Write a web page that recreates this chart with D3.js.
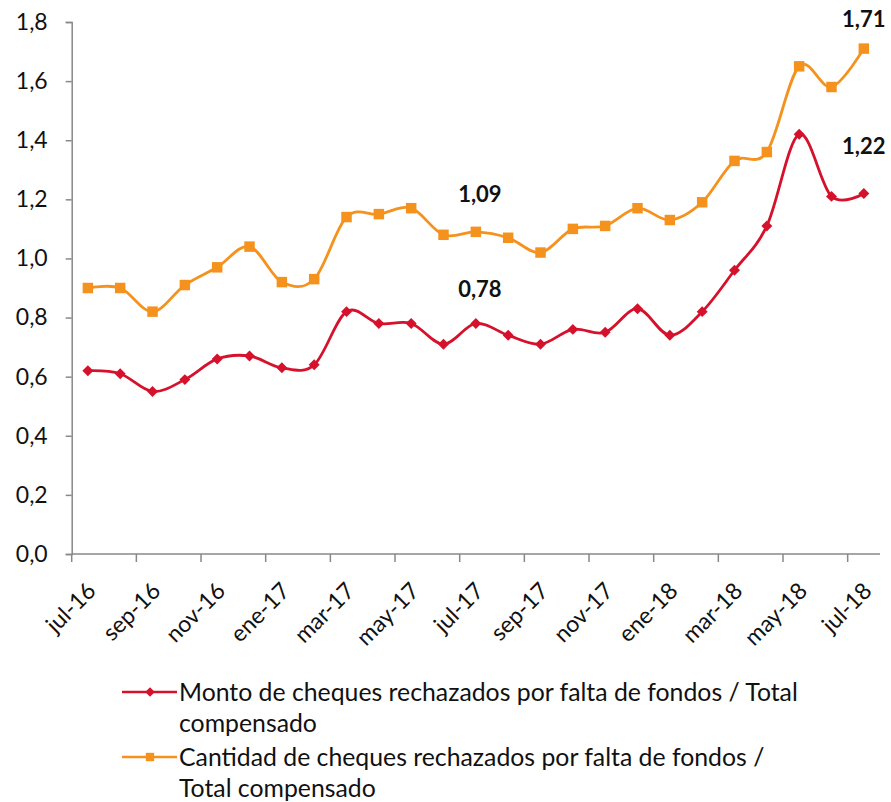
<!DOCTYPE html>
<html>
<head>
<meta charset="utf-8">
<script src="https://cdn.jsdelivr.net/npm/d3@7"></script>
<style>
  body { margin: 0; background: #fff; }
  text { font-family: Lato, "Open Sans", sans-serif; fill: #111; }
</style>
</head>
<body>
<div id="container"></div>
<script>
// Data
const months = ["jul-16","ago-16","sep-16","oct-16","nov-16","dic-16","ene-17","feb-17","mar-17","abr-17","may-17","jun-17",
  "jul-17","ago-17","sep-17","oct-17","nov-17","dic-17","ene-18","feb-18","mar-18","abr-18","may-18","jun-18","jul-18"];
const monto = [0.62,0.61,0.55,0.59,0.66,0.67,0.63,0.64,0.82,0.78,0.78,0.71,
  0.78,0.74,0.71,0.76,0.75,0.83,0.74,0.82,0.96,1.11,1.42,1.21,1.22];
const cantidad = [0.90,0.90,0.82,0.91,0.97,1.04,0.92,0.93,1.14,1.15,1.17,1.08,
  1.09,1.07,1.02,1.10,1.11,1.17,1.13,1.19,1.33,1.36,1.65,1.58,1.71];
const yTicks = [0,0.2,0.4,0.6,0.8,1.0,1.2,1.4,1.6,1.8];
const legendMonto = ["Monto de cheques rechazados por falta de fondos / Total", "compensado"];
const legendCantidad = ["Cantidad de cheques rechazados por falta de fondos /", "Total compensado"];

const width = 891, height = 802;
const marginLeft = 71.7, plotRight = 880, plotTop = 22, plotBottom = 554;
const red = "#d5112c", orange = "#f5921e";

const locale = d3.formatLocale({decimal: ",", thousands: ".", grouping: [3], currency: ["", ""]});
const f1 = locale.format(".1f"), f2 = locale.format(".2f");

const x = d3.scaleBand().domain(months).range([marginLeft, plotRight]).padding(0);
const y = d3.scaleLinear().domain([0, 1.8]).range([plotBottom, plotTop]);
const cx = (d, i) => x(months[i]) + x.bandwidth() / 2;

const svg = d3.select("#container").append("svg")
  .attr("width", width).attr("height", height);

// y axis
const yAxis = svg.append("g")
  .attr("transform", `translate(${marginLeft},0)`)
  .call(d3.axisLeft(y).tickValues(yTicks).tickFormat(f1).tickSize(6).tickPadding(18));
yAxis.select(".domain").attr("stroke", "#888").attr("stroke-width", 1.5);
yAxis.selectAll(".tick line").attr("stroke", "#888").attr("stroke-width", 1.5);
yAxis.selectAll("text").style("font-size", "23px").attr("fill", "#111");

// x axis: tick marks every 2 months at category boundaries
const xAxis = svg.append("g").attr("transform", `translate(0,${plotBottom})`);
xAxis.append("line").attr("x1", marginLeft).attr("x2", plotRight)
  .attr("stroke", "#888").attr("stroke-width", 1.5);
const shown = months.filter((m, i) => i % 2 === 0);
xAxis.selectAll(".tk").data(shown).join("line")
  .attr("x1", d => x(d)).attr("x2", d => x(d))
  .attr("y1", 0).attr("y2", 8)
  .attr("stroke", "#888").attr("stroke-width", 1.5);
xAxis.selectAll(".lb").data(shown).join("text")
  .attr("text-anchor", "end")
  .attr("transform", d => `translate(${x(d) + x.bandwidth() / 2 - 2},${27}) rotate(-45)`)
  .attr("dy", "0.7em")
  .style("font-size", "23px")
  .text(d => d);

// lines
const line = d3.line().x(cx).y(d => y(d)).curve(d3.curveCatmullRom.alpha(0));
svg.append("path").datum(cantidad).attr("d", line)
  .attr("fill", "none").attr("stroke", orange).attr("stroke-width", 2.8);
svg.append("path").datum(monto).attr("d", line)
  .attr("fill", "none").attr("stroke", red).attr("stroke-width", 2.8);

const square = d3.symbol().type(d3.symbolSquare).size(110);
const diamond = d3.symbol().type(d3.symbolSquare).size(60);
svg.append("g").selectAll("path").data(cantidad).join("path")
  .attr("d", square).attr("fill", orange)
  .attr("transform", (d, i) => `translate(${cx(d, i)},${y(d)})`);
svg.append("g").selectAll("path").data(monto).join("path")
  .attr("d", diamond).attr("fill", red)
  .attr("transform", (d, i) => `translate(${cx(d, i)},${y(d)}) rotate(45)`);

// data labels
const labels = [
  {s: cantidad, i: 12, dx: 4, dy: -38},
  {s: monto, i: 12, dx: 4, dy: -34},
  {s: cantidad, i: 24, dx: 0, dy: -29},
  {s: monto, i: 24, dx: 0, dy: -47}
];
svg.append("g").selectAll("text").data(labels).join("text")
  .attr("x", d => cx(null, d.i) + d.dx)
  .attr("y", d => y(d.s[d.i]) + d.dy)
  .attr("dy", "0.35em")
  .attr("text-anchor", "middle")
  .style("font-size", "22px").style("font-weight", "bold")
  .text(d => f2(d.s[d.i]));

// legend
const legend = svg.append("g");
const rows = [
  {color: red, sym: d3.symbol().type(d3.symbolSquare).size(45), rot: 45, lines: legendMonto, y0: 692},
  {color: orange, sym: d3.symbol().type(d3.symbolSquare).size(70), rot: 0, lines: legendCantidad, y0: 757}
];
rows.forEach(r => {
  const g = legend.append("g");
  g.append("line").attr("x1", 122).attr("x2", 177).attr("y1", r.y0).attr("y2", r.y0)
    .attr("stroke", r.color).attr("stroke-width", 2.5);
  g.append("path").attr("d", r.sym()).attr("fill", r.color)
    .attr("transform", `translate(150,${r.y0}) rotate(${r.rot})`);
  r.lines.forEach((t, k) => {
    g.append("text").attr("x", 179).attr("y", r.y0 + k * 31).attr("dy", "0.35em")
      .style("font-size", "24.8px").text(t);
  });
});
</script>
</body>
</html>
